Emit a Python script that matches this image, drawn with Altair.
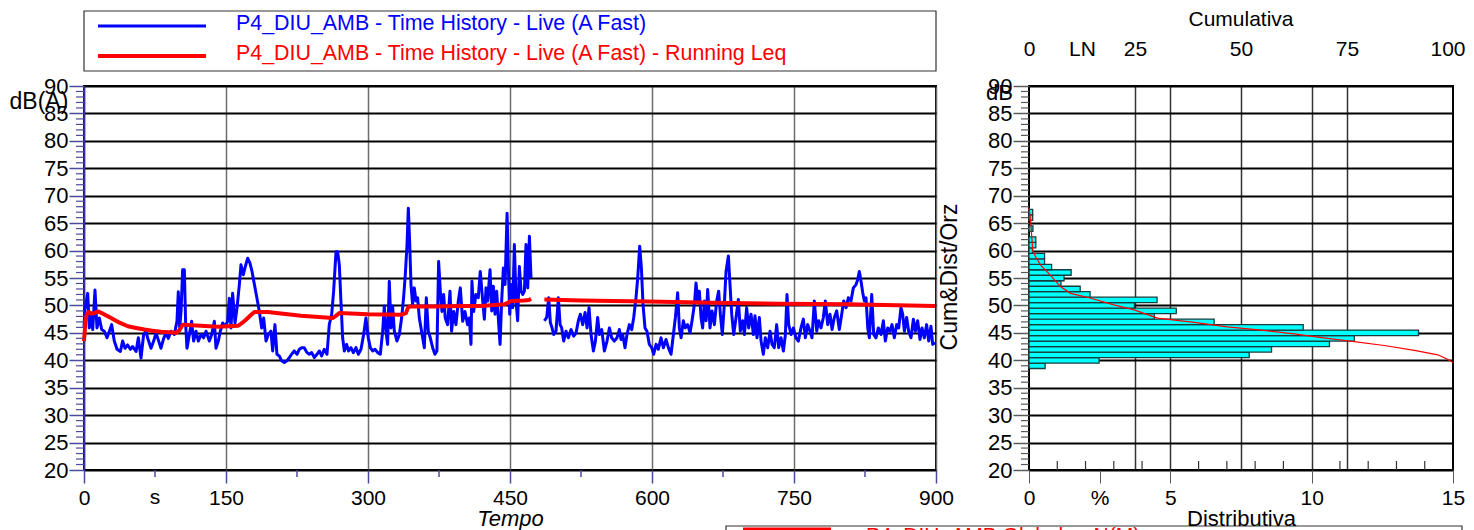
import altair as alt
import pandas as pd

FONT = "Liberation Sans"

# ---------------- data ----------------
SERIES = ["P4_DIU_AMB - Time History - Live (A Fast)",
          "P4_DIU_AMB - Time History - Live (A Fast) - Running Leq"]
GLOBAL_LABEL = "P4_DIU_AMB Globale - N(M)"

TIME_A = [
    0, 1, 3.9, 5.6, 7.4, 9.2, 11.6, 13.7, 16.2, 18.7,
    21.5, 24.3, 26.8, 29.2, 32.0, 34.9, 38.4, 40.8, 43.3, 46.1,
    49.0, 51.4, 55.0, 57.4, 60.2, 63.0, 65.5, 67.3, 70.8, 73.6,
    76.1, 78.9, 81.3, 84.2, 86.6, 89.1, 91.9, 95.4, 98.2, 99.6,
    101.1, 102.5, 104.2, 106.0, 107.4, 108.8, 111.3, 113.7, 115.8, 118.3,
    120.8, 123.6, 126.4, 128.9, 132.4, 134.9, 137.7, 139.4, 141.9, 144.0,
    146.5, 149.0, 151.8, 153.5, 155.3, 157.0, 159.5, 161.6, 164.1, 165.8,
    168.3, 170.4, 172.9, 175.3, 177.5, 180.0, 182.7, 185.2, 187.7, 189.8,
    192.3, 194.7, 197.5, 199.3, 201.7, 203.8, 206.3, 208.8, 211.6, 214.4,
    216.9, 219.3, 222.1, 225.0, 227.4, 229.9, 232.7, 235.5, 238.0, 240.5,
    243.3, 246.1, 248.6, 251.0, 253.8, 256.7, 259.1, 261.6, 263.7, 266.2,
    267.9, 269.7, 271.4, 273.2, 275.0, 277.4, 279.5, 282.0, 284.5, 287.3,
    289.8, 292.6, 295.4, 297.8, 300.3, 302.4, 304.9, 307.4, 310.2, 313.0,
    315.5, 317.2, 319.0, 320.7, 322.5, 324.3, 326.0, 327.8, 330.6, 333.1,
    335.5, 337.6, 339.4, 341.2, 342.6, 344.0, 345.4, 347.1, 348.9, 350.7,
    352.4, 354.2, 356.6, 359.5, 361.6, 363.7, 365.8, 368.3, 370.7, 372.8,
    374.6, 376.4, 378.1, 379.9, 381.6, 384.1, 386.6, 388.3, 390.5, 392.9,
    395.4, 397.5, 400.0, 402.4, 405.2, 407.0, 408.8, 409.8, 411.6, 414.0,
    416.5, 418.6, 421.2, 422.9, 424.7, 426.4, 428.9, 430.7, 432.4, 434.2,
    435.9, 438.1, 439.5, 441.2, 443.0, 444.8, 446.9, 448.3, 449.7, 451.1,
    452.9, 454.6, 456.4, 458.1, 459.9, 461.7, 463.4, 465.2, 466.9, 468.7,
    470.5, 472.2,
]
LEVEL_A = [
    46.0, 49.2, 52.2, 45.9, 48.6, 45.6, 52.8, 45.9, 47.7, 45.6,
    45.3, 44.1, 45.3, 46.5, 43.5, 42.0, 41.6, 43.5, 42.2, 42.8,
    42.0, 42.5, 41.6, 44.1, 40.4, 44.7, 45.3, 44.0, 42.2, 43.5,
    45.0, 43.5, 42.2, 44.0, 45.0, 44.0, 45.3, 44.7, 47.1, 52.5,
    45.9, 48.9, 56.5, 56.5, 46.5, 42.2, 44.7, 47.1, 43.5, 45.3,
    43.5, 44.7, 44.1, 45.3, 43.5, 44.7, 47.1, 42.2, 43.5, 45.3,
    46.8, 46.2, 47.1, 51.3, 45.9, 52.2, 46.8, 49.5, 53.8, 57.4,
    55.6, 57.1, 58.6, 57.7, 56.2, 53.8, 51.3, 48.9, 45.9, 47.7,
    43.5, 44.7, 45.3, 41.7, 46.5, 41.1, 40.8, 39.9, 39.6, 39.9,
    40.5, 41.1, 41.7, 41.1, 42.0, 42.3, 42.3, 41.4, 41.1, 41.4,
    40.5, 41.1, 41.7, 40.8, 42.0, 41.1, 46.5, 48.3, 52.6, 59.8,
    59.8, 57.4, 50.8, 44.1, 41.7, 42.9, 41.7, 42.3, 41.4, 42.3,
    41.1, 42.0, 44.7, 47.7, 44.1, 42.3, 41.7, 42.0, 41.4, 41.1,
    45.3, 49.9, 45.3, 42.9, 54.4, 45.9, 49.9, 45.3, 43.5, 44.7,
    47.7, 51.4, 55.6, 61.0, 67.7, 61.6, 53.8, 50.2, 53.2, 50.8,
    51.4, 47.7, 45.3, 42.3, 51.4, 45.3, 44.1, 42.3, 41.1, 41.7,
    58.0, 52.6, 48.9, 52.0, 47.7, 46.5, 52.6, 45.3, 48.9, 46.5,
    50.8, 53.2, 47.1, 48.9, 46.5, 47.7, 42.9, 54.4, 48.9, 52.0,
    51.4, 56.2, 50.8, 47.5, 53.2, 50.8, 56.5, 49.0, 53.5, 48.4,
    52.6, 46.5, 42.9, 50.8, 56.8, 53.8, 66.8, 56.8, 48.4, 53.8,
    49.6, 61.1, 50.8, 47.2, 57.1, 52.6, 52.0, 52.6, 61.1, 53.2,
    62.6, 55.0,
]
TIME_B = [
    486.3, 488.8, 490.9, 492.6, 494.4, 496.2, 498.6, 501.1, 502.9, 504.6,
    506.7, 509.2, 511.7, 514.5, 517.3, 519.8, 522.2, 524.3, 526.8, 529.3,
    531.4, 533.5, 535.6, 538.1, 540.2, 542.6, 544.4, 546.9, 549.7, 552.5,
    555.0, 557.4, 560.2, 563.0, 565.5, 567.3, 569.0, 571.5, 573.6, 576.1,
    578.6, 580.7, 583.1, 584.9, 587.0, 588.8, 590.5, 592.6, 594.7, 597.2,
    599.7, 601.8, 604.3, 606.7, 609.5, 612.0, 614.8, 617.3, 620.1, 622.6,
    624.7, 627.1, 628.9, 630.7, 633.1, 635.2, 637.7, 640.2, 642.3, 644.8,
    646.5, 648.3, 650.0, 651.8, 653.5, 655.3, 657.1, 658.8, 661.3, 663.4,
    665.9, 668.3, 670.4, 672.2, 674.3, 676.4, 678.2, 680.7, 682.4, 684.2,
    686.3, 688.8, 691.2, 693.3, 695.8, 697.6, 700.0, 702.1, 704.6, 707.1,
    708.8, 710.9, 713.4, 715.2, 717.6, 719.7, 722.2, 724.7, 726.8, 729.2,
    731.7, 733.8, 736.3, 738.8, 740.9, 742.6, 744.4, 746.9, 749.3, 752.1,
    754.6, 757.4, 759.9, 762.0, 764.5, 766.9, 769.0, 771.5, 774.0, 776.1,
    778.5, 781.0, 783.1, 785.6, 788.0, 790.2, 792.6, 795.1, 797.9, 800.4,
    802.5, 805.0, 807.4, 810.2, 812.7, 815.5, 817.3, 819.0, 820.8, 822.6,
    824.3, 826.1, 827.9, 829.6, 832.1, 834.2, 836.6, 839.1, 841.9, 844.4,
    846.5, 849.0, 851.4, 853.5, 856.0, 858.5, 860.6, 863.0, 864.8, 866.6,
    869.0, 871.1, 873.6, 876.1, 878.2, 880.6, 883.1, 885.2, 887.7, 890.1,
    892.3, 894.7, 896.5, 899.0,
]
LEVEL_B = [
    47.2, 47.8, 51.4, 46.9, 45.9, 44.7, 45.3, 51.4, 46.5, 45.9,
    43.5, 45.3, 44.1, 45.6, 44.4, 45.0, 47.2, 48.4, 46.5, 48.7,
    45.9, 49.6, 44.7, 41.7, 43.5, 47.8, 44.7, 45.6, 41.7, 43.5,
    45.9, 44.1, 43.5, 44.1, 45.6, 43.8, 44.7, 42.3, 44.7, 46.5,
    45.6, 47.8, 51.4, 55.0, 60.8, 56.8, 50.2, 45.9, 45.3, 42.9,
    42.3, 41.1, 42.9, 42.0, 44.1, 42.3, 43.8, 42.3, 41.1, 44.7,
    47.8, 52.3, 45.9, 44.1, 47.2, 45.9, 46.5, 45.0, 47.2, 50.2,
    54.1, 50.8, 52.6, 47.8, 45.9, 50.8, 47.2, 52.9, 45.9, 49.0,
    46.5, 50.8, 52.6, 48.4, 44.7, 50.2, 56.2, 59.0, 53.8, 48.4,
    44.7, 47.8, 51.1, 45.3, 47.2, 44.7, 49.6, 45.9, 48.4, 44.7,
    48.1, 44.1, 47.8, 43.5, 41.1, 44.1, 42.3, 45.3, 42.9, 42.3,
    46.5, 42.3, 44.1, 41.7, 44.7, 52.0, 46.5, 44.7, 45.9, 44.1,
    43.5, 45.9, 47.5, 44.1, 46.5, 45.3, 44.1, 50.8, 45.3, 47.2,
    45.9, 47.8, 50.8, 46.5, 48.4, 45.6, 47.8, 49.0, 45.6, 48.4,
    50.8, 49.6, 51.4, 50.8, 53.2, 53.8, 54.7, 56.2, 54.4, 52.3,
    50.8, 51.4, 45.9, 44.1, 52.0, 44.7, 44.1, 45.9, 44.7, 47.2,
    43.5, 45.9, 45.3, 46.5, 44.1, 46.5, 45.9, 49.6, 48.4, 45.3,
    47.8, 45.3, 44.1, 47.5, 45.3, 47.2, 43.8, 45.9, 44.1, 46.5,
    43.5, 46.2, 42.9, 43.2,
]

LEQ_TIME_A = [0, 1.5, 3, 5, 8, 11, 14.5, 20, 28.6, 37,
              46.2, 55, 63.9, 72, 81.3, 90, 97.2, 101, 104.2, 113,
              123.6, 141.2, 163, 167, 171.1, 176, 180, 194, 229.2, 262.6,
              266, 269.7, 299.6, 334.9, 340.1, 342, 343.7, 370, 400, 419.4,
              444, 449, 451, 465, 470, 472.2]
LEQ_A = [43.5, 47.0, 48.5, 48.8, 48.5, 48.6, 48.9, 48.5, 47.7, 46.9,
         46.2, 45.9, 45.6, 45.4, 45.2, 45.1, 45.0, 45.5, 46.5, 46.4,
         46.3, 46.1, 46.3, 46.8, 47.4, 48.2, 48.8, 48.8, 48.1, 47.7,
         48.1, 48.6, 48.4, 48.3, 48.6, 49.5, 49.8, 49.8, 49.9, 49.9,
         50.2, 50.6, 50.8, 50.9, 51.0, 51.2]
LEQ_TIME_B = [486.3, 525, 595.5, 666, 736, 806.7, 899]
LEQ_B = [51.1, 50.9, 50.7, 50.5, 50.3, 50.2, 49.9]

HIST_LEVEL = [39, 40, 41, 42, 43, 44, 45, 46, 47, 48, 49, 50, 51, 52, 53,
              54, 55, 56, 57, 58, 59, 60, 61, 62, 64, 66, 67]
HIST_PCT = [0.57, 2.48, 7.79, 8.58, 10.63, 11.51, 13.78, 9.70, 6.55, 4.43,
            5.21, 3.73, 4.53, 2.16, 1.81, 1.13, 1.24, 1.49, 0.80, 0.55,
            0.55, 0.12, 0.24, 0.24, 0.14, 0.13, 0.13]

CUM_LEVEL = [67.8, 65.4, 63.0, 60.0, 58.8, 57.3, 55.8, 53.4, 52.2, 51.4,
             50.1, 49.2, 47.7, 46.9, 46.1, 45.5, 44.8, 44.0, 43.4, 42.7,
             41.8, 41.0, 40.2, 39.6]
CUM_PCT = [0, 0.4, 0.6, 0.9, 1.6, 2.8, 4.7, 7.5, 9.8, 14.2,
           20.0, 24.8, 30.3, 39.0, 46.8, 54.7, 62.5, 70.4, 76.7, 83.8,
           90.9, 96.4, 98.7, 100]

DB_TICKS = list(range(20, 91, 5))
DB_MINOR = [v for v in range(21, 90) if v % 5 != 0]
T_TICKS = [0, 150, 300, 450, 600, 750, 900]
T_MINOR = [75, 225, 375, 525, 675, 825]
PCT_TICKS = [0, 2.5, 5, 10, 15]
PCT_MINOR = [1, 2, 3, 4, 6, 7, 8, 9, 11, 12, 13, 14]
CUM_TICKS = [0, 12.5, 25, 50, 75, 100]

# ---------------- frames ----------------
ts_df = pd.DataFrame({"t": TIME_A + TIME_B, "db": LEVEL_A + LEVEL_B,
                      "seg": ["a"] * len(TIME_A) + ["b"] * len(TIME_B)})
leq_df = pd.DataFrame({"t": LEQ_TIME_A + LEQ_TIME_B, "db": LEQ_A + LEQ_B,
                       "seg": ["a"] * len(LEQ_TIME_A) + ["b"] * len(LEQ_TIME_B)})
hist_df = pd.DataFrame({"level": HIST_LEVEL, "pct": HIST_PCT})
cum_df = pd.DataFrame({"cum": CUM_PCT, "db": CUM_LEVEL})
one = pd.DataFrame({"k": [0]})

W_L, W_R, H = 852, 424, 384
NAVY = "#4b4b9b"
GREY = "#5a5a5a"

xL = alt.Scale(domain=[0, 900], nice=False, zero=False)
yS = alt.Scale(domain=[20, 90], nice=False, zero=False)
xR = alt.Scale(domain=[0, 15], nice=False, zero=False)
xC = alt.Scale(domain=[0, 100], nice=False, zero=False)

x_axis_left = alt.Axis(values=T_TICKS, tickCount=30, title="Tempo", titleFontStyle="italic",
                       titleFontSize=22, titlePadding=0, labelFontSize=21,
                       labelPadding=4, tickSize=13, tickColor=NAVY, tickWidth=1.5,
                       domain=False, grid=True, gridColor="#6e6e6e", gridWidth=1.5,
                       labelFlush=False, labelOverlap=False)
y_axis_left = alt.Axis(values=DB_TICKS, tickCount=30, title="dB(A)", titleAngle=0, titleX=-75,
                       titleY=15, titleAlign="left", titleBaseline="middle",
                       titleFontSize=23, labelFontSize=22, labelPadding=1,
                       tickSize=15, tickColor=NAVY, tickWidth=1.5,
                       domain=True, domainColor="#333399", domainWidth=1.5,
                       grid=True, gridColor="black", gridWidth=2,
                       labelFlush=False, labelOverlap=False)

# ---------------- left panel ----------------
legend_box = alt.Chart(one).mark_rect(fill="white", stroke="#333333", strokeWidth=1.2).encode(
    x=alt.value(0), x2=alt.value(W_L), y=alt.value(-75), y2=alt.value(-15))
leg_line_b = alt.Chart(one).mark_rule(color="#0000ff", strokeWidth=3).encode(
    x=alt.value(14), x2=alt.value(122), y=alt.value(-60))
leg_line_r = alt.Chart(one).mark_rule(color="#ff0000", strokeWidth=4).encode(
    x=alt.value(14), x2=alt.value(122), y=alt.value(-30))
leg_text_b = alt.Chart(one).mark_text(align="left", baseline="middle", fontSize=21.4,
                                      color="#0000ff").encode(
    x=alt.value(152), y=alt.value(-62), text=alt.value(SERIES[0]))
leg_text_r = alt.Chart(one).mark_text(align="left", baseline="middle", fontSize=21.4,
                                      color="#ff0000").encode(
    x=alt.value(152), y=alt.value(-32), text=alt.value(SERIES[1]))

ts_line = alt.Chart(ts_df).mark_line(color="#0000ff", strokeWidth=3, strokeJoin="round").encode(
    x=alt.X("t:Q", scale=xL, axis=x_axis_left),
    y=alt.Y("db:Q", scale=yS, axis=y_axis_left),
    detail="seg:N")
leq_line = alt.Chart(leq_df).mark_line(color="#ff0000", strokeWidth=4, strokeJoin="round").encode(
    x=alt.X("t:Q", scale=xL, axis=x_axis_left),
    y=alt.Y("db:Q", scale=yS, axis=y_axis_left), detail="seg:N")

minor_y_l = alt.Chart(pd.DataFrame({"db": DB_MINOR})).mark_rule(color=NAVY, strokeWidth=1.2).encode(
    y=alt.Y("db:Q", scale=yS, axis=y_axis_left), x=alt.value(-8), x2=alt.value(0))
minor_x_l = alt.Chart(pd.DataFrame({"t": T_MINOR})).mark_rule(color=NAVY, strokeWidth=1.5).encode(
    x=alt.X("t:Q", scale=xL, axis=x_axis_left), y=alt.value(H), y2=alt.value(H + 7))
s_label = alt.Chart(one).mark_text(baseline="top", fontSize=21, color="black").encode(
    x=alt.datum(75), y=alt.value(H + 17), text=alt.value("s"))

glob_box = alt.Chart(one).mark_rect(fill="white", stroke="#333333", strokeWidth=1.2).encode(
    x=alt.value(642), x2=alt.value(1378), y=alt.value(440), y2=alt.value(480))
glob_swatch = alt.Chart(one).mark_rect(fill="#ff0000").encode(
    x=alt.value(659), x2=alt.value(747), y=alt.value(441.5), y2=alt.value(460))
glob_text = alt.Chart(one).mark_text(align="left", baseline="top", fontSize=21,
                                     color="#ff0000").encode(
    x=alt.value(782), y=alt.value(439), text=alt.value(GLOBAL_LABEL))

left = alt.layer(
    legend_box, leg_line_b, leg_line_r, leg_text_b, leg_text_r,
    ts_line, leq_line, minor_y_l, minor_x_l, s_label,
    glob_box, glob_swatch, glob_text,
).properties(width=W_L, height=H)

# ---------------- right panel ----------------
x_axis_dist = alt.Axis(values=PCT_TICKS, tickCount=30, orient="bottom", title="Distributiva",
                       format="d",
                       titleFontSize=22, titlePadding=0, labelFontSize=21,
                       labelPadding=4, tickSize=13, tickColor=GREY,
                       labelExpr="datum.value == 2.5 ? '%' : datum.label",
                       domain=False, grid=True, gridColor="#333333", gridWidth=1.5,
                       gridOpacity={"condition": {"test": "datum.value == 5 || datum.value == 10",
                                                  "value": 1}, "value": 0},
                       labelFlush=False, labelOverlap=False)
x_axis_cum = alt.Axis(values=CUM_TICKS, tickCount=30, orient="top", title=None,
                      format="d", labelFontSize=21,
                      labelPadding=27, ticks=False, domain=False,
                      labelExpr="datum.value == 12.5 ? 'LN' : datum.label",
                      labelAlign={"condition": {"test": "datum.value == 100", "value": "right"},
                                  "value": "center"},
                      labelOffset={"condition": {"test": "datum.value == 100", "value": 12},
                                   "value": 0},
                      grid=True, gridColor="#333333", gridWidth=1.5,
                      gridOpacity={"condition": {"test": "datum.value == 25 || datum.value == 50 || datum.value == 75",
                                                 "value": 1}, "value": 0},
                      labelFlush=False, labelOverlap=False)
y_axis_right = alt.Axis(values=DB_TICKS, tickCount=30, title="dB", titleAngle=0, titleX=-30,
                        titleY=6, titleAlign="center", titleBaseline="middle",
                        titleFontSize=22, labelFontSize=22, labelPadding=1,
                        tickSize=16, tickColor=GREY, tickWidth=1.5, domain=False,
                        grid=True, gridColor="black", gridWidth=2,
                        labelFlush=False, labelOverlap=False)

bars = alt.Chart(hist_df).transform_calculate(
    lo="datum.level - 0.5", hi="datum.level + 0.5"
).mark_rect(fill="#00ffff", stroke="#163c3c", strokeWidth=1.3).encode(
    x=alt.X("pct:Q", scale=xR, axis=x_axis_dist), x2=alt.datum(0),
    y=alt.Y("lo:Q", scale=yS, axis=y_axis_right), y2="hi:Q")
cum_line = alt.Chart(cum_df).mark_line(color="#ff0000", strokeWidth=1.2).encode(
    x=alt.X("cum:Q", scale=xC, axis=x_axis_cum),
    y=alt.Y("db:Q", scale=yS, axis=y_axis_right))
minor_x_r = alt.Chart(pd.DataFrame({"pct": PCT_MINOR})).mark_rule(color="#333333", strokeWidth=1.2).encode(
    x=alt.X("pct:Q", scale=xR, axis=None), y=alt.value(H), y2=alt.value(H - 9))
minor_y_r = alt.Chart(pd.DataFrame({"db": DB_MINOR})).mark_rule(color=GREY, strokeWidth=1.2).encode(
    y=alt.Y("db:Q", scale=yS, axis=y_axis_right), x=alt.value(-8), x2=alt.value(0))
side_title = alt.Chart(one).mark_text(angle=270, fontSize=23, align="center",
                                      baseline="middle", color="black").encode(
    x=alt.value(-79), y=alt.value(191), text=alt.value("Cum&Dist/Orz"))
cum_title = alt.Chart(one).mark_text(fontSize=21, align="center",
                                     baseline="middle", color="black").encode(
    x=alt.value(W_R / 2), y=alt.value(-66), text=alt.value("Cumulativa"))

right = alt.layer(bars, cum_line, minor_x_r, minor_y_r, side_title, cum_title).resolve_scale(
    x="independent").properties(width=W_R, height=H)

chart = alt.hconcat(left, right, spacing=93, bounds="flush").properties(
    padding={"left": 0, "top": 0, "right": 0, "bottom": 0}
).configure_axis(
    labelFont=FONT, titleFont=FONT, labelColor="black", titleColor="black",
    titleFontWeight="normal"
).configure_text(font=FONT).configure_view(stroke="black", strokeWidth=2)

chart.save("out.html", embed_options={"renderer": "svg", "actions": False})
